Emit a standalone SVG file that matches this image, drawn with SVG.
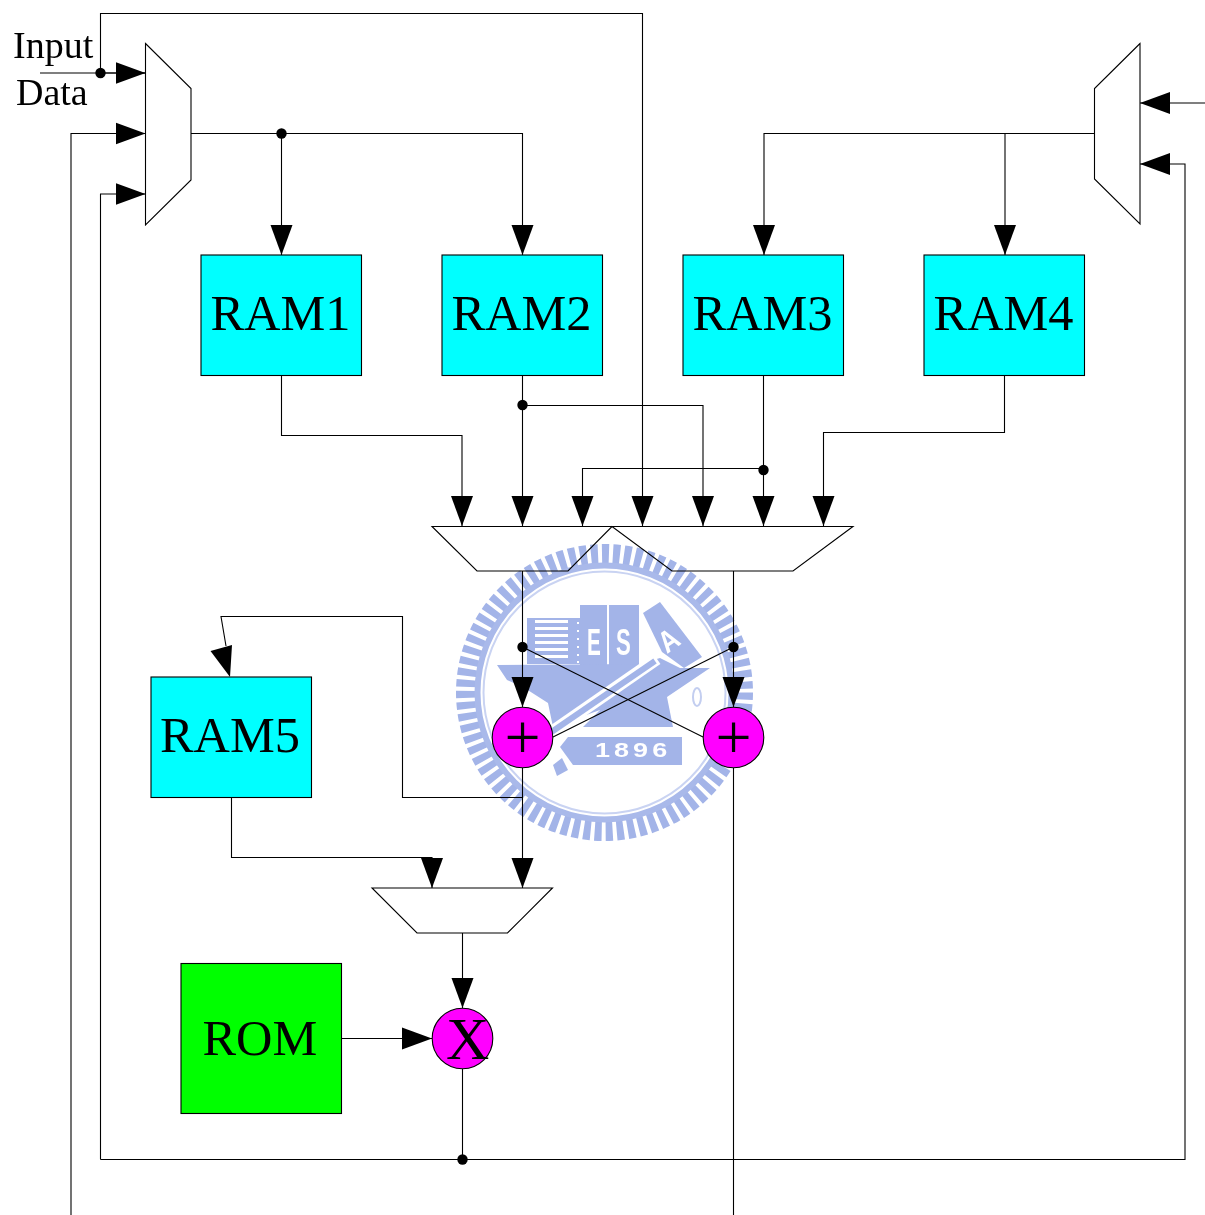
<svg xmlns="http://www.w3.org/2000/svg" width="1205" height="1215" viewBox="0 0 1205 1215">
<style>
.w{fill:none;stroke:#000;stroke-width:1.1}
.a{marker-end:url(#arrow)}
.dot{fill:#000;stroke:none}
.mux{fill:none;stroke:#000;stroke-width:1.1}
.ram{fill:#00ffff;stroke:#000;stroke-width:1.1}
.rom{fill:#00ff00;stroke:#000;stroke-width:1.1}
.op{fill:#ff00ff;stroke:#000;stroke-width:1.1}
text{font-family:"Liberation Serif","Times New Roman",serif;fill:#000}
.lbl{font-size:50.4px}
.io{font-size:38px}
.wt{font-family:"Liberation Sans",Arial,sans-serif;font-weight:bold;fill:#fff}
.wb{fill:#a3b4e8}
</style>
<defs>
<marker id="arrow" markerUnits="userSpaceOnUse" markerWidth="31" markerHeight="24" refX="30" refY="12" orient="auto">
<path d="M0,1 L30,12 L0,23 z" fill="#000"/>
</marker>
<filter id="soft" x="-5%" y="-5%" width="110%" height="110%"><feGaussianBlur stdDeviation="0.7"/></filter>
</defs>
<rect width="1205" height="1215" fill="#fff"/>
<g id="watermark" filter="url(#soft)">
<circle cx="604.500" cy="692.500" r="138" fill="none" stroke="#a3b4e8" stroke-width="21" stroke-dasharray="7 3.975"/>
<circle cx="604.500" cy="692.500" r="127" fill="none" stroke="#a9b9ea" stroke-width="6"/>
<circle cx="604.500" cy="692.500" r="121" fill="none" stroke="#c9d3f2" stroke-width="2"/>
<rect class="wb" x="527" y="618" width="53" height="46"/>
<g fill="#fff">
<rect x="535" y="620" width="33" height="3"/><rect x="535" y="627" width="33" height="3"/><rect x="535" y="634" width="33" height="3"/><rect x="535" y="641" width="33" height="3"/><rect x="535" y="648" width="33" height="3"/><rect x="535" y="655" width="33" height="3"/>
<rect x="577" y="622" width="2" height="2"/><rect x="577" y="630" width="2" height="2"/><rect x="577" y="638" width="2" height="2"/><rect x="577" y="646" width="2" height="2"/><rect x="577" y="654" width="2" height="2"/><rect x="577" y="661" width="2" height="2"/>
</g>
<rect class="wb" x="580" y="605" width="27" height="60"/>
<rect class="wb" x="609" y="605" width="30" height="60"/>
<polygon class="wb" points="643,613 660,602 702,657 684,668 662,652"/>
<polygon class="wb" points="497,665 640,664 660,658 680,668 710,668 667,697 673,727 583,727 600,710 553,727 548,703 523,687 507,680"/>
<path d="M657,659 L553,731" fill="none" stroke="#fff" stroke-width="12"/>
<path d="M655,661 L550,733" fill="none" stroke="#a3b4e8" stroke-width="6"/>
<rect x="530" y="703" width="18" height="24" fill="#fff"/>
<polygon class="wb" points="568,737 682,737 682,765 573,765 560,747"/>
<polygon class="wb" points="553,765 562,758 568,770 557,776"/>
<ellipse cx="697" cy="697" rx="4" ry="9" fill="none" stroke="#c3cef0" stroke-width="2"/>
<text class="wt" transform="translate(587,655) scale(.56,1)" font-size="37">E</text>
<text class="wt" transform="translate(616,655) scale(.6,1)" font-size="37">S</text>
<text class="wt" transform="translate(667,654) rotate(-35) scale(.85,1)" font-size="30">A</text>
<text class="wt" transform="translate(595,757) scale(1.35,1)" font-size="20" letter-spacing="3">1896</text>
</g>
<g id="connectors">
<path class="w" d="M40,73 H145"/>
<path class="w a" d="M100.500,73 V13.500 H642.500 V526"/>
<path class="w a" d="M100.500,73 H145.500"/>
<path class="w a" d="M71,1215 V133.500 H145.500"/>
<path class="w a" d="M100.500,1159.500 V194 H145.500"/>
<path class="w a" d="M100.500,1159.500 H1185 V164 H1140"/>
<path class="w a" d="M191,133.500 H522.500 V255"/>
<path class="w a" d="M281.500,133.500 V255"/>
<path class="w a" d="M1205,103 H1140"/>
<path class="w a" d="M1094.500,133.500 H764 V255"/>
<path class="w a" d="M1005,133.500 V255"/>
<path class="w a" d="M281.500,375.500 V435.500 H462 V526"/>
<path class="w a" d="M522.500,375.500 V526"/>
<path class="w a" d="M522.500,405.500 H703 V526"/>
<path class="w a" d="M763.500,375.500 V526"/>
<path class="w a" d="M763.500,468.500 H582.500 V526"/>
<path class="w a" d="M1004.500,375.500 V432.500 H823.500 V526"/>
<path class="w a" d="M522.500,571 V707"/>
<path class="w a" d="M733.500,571 V707"/>
<path class="w" d="M522.500,647 L703,737"/>
<path class="w" d="M733.500,647 L553,737"/>
<path class="w a" d="M522.500,768 V888"/>
<path class="w" d="M522.500,797.500 H402.500 V616.500 H221 L226,646"/>
<polygon points="210.500,651 232,645 230,677" fill="#000"/>
<path class="w" d="M733.500,768 V1215"/>
<path class="w a" d="M231.500,797.500 V857.500 H432 V888"/>
<path class="w a" d="M462.500,933 V1008"/>
<path class="w a" d="M341.500,1038.500 H432"/>
<path class="w" d="M462.500,1069 V1159.500"/>
<circle class="dot" cx="100.500" cy="73" r="5.200"/>
<circle class="dot" cx="281.500" cy="133.500" r="5.200"/>
<circle class="dot" cx="522.500" cy="405" r="5.200"/>
<circle class="dot" cx="763.500" cy="470" r="5.200"/>
<circle class="dot" cx="522.500" cy="647" r="5.200"/>
<circle class="dot" cx="733.500" cy="647" r="5.200"/>
<circle class="dot" cx="462.500" cy="1159.500" r="5.200"/>
</g>
<g id="input-label"><text class="io" x="13" y="58">Input</text><text class="io" x="16" y="105">Data</text></g>
<g id="mux-left"><polygon class="mux" points="145.500,43.500 191,88.500 191,180 145.500,225"/></g>
<g id="mux-right"><polygon class="mux" points="1140,43.500 1094.500,88.500 1094.500,179 1140,224"/></g>
<g id="ram1"><rect class="ram" x="201" y="255" width="160.500" height="120.500"/><text class="lbl" x="210.500" y="330">RAM1</text></g>
<g id="ram2"><rect class="ram" x="442" y="255" width="160.500" height="120.500"/><text class="lbl" x="451.500" y="330">RAM2</text></g>
<g id="ram3"><rect class="ram" x="683" y="255" width="160.500" height="120.500"/><text class="lbl" x="692.500" y="330">RAM3</text></g>
<g id="ram4"><rect class="ram" x="924" y="255" width="160.500" height="120.500"/><text class="lbl" x="933.500" y="330">RAM4</text></g>
<g id="mux-mid"><path class="mux" d="M432,526.500 H853 L793,571 H672 L612,526.500 L568,571 H477 Z"/></g>
<g id="adder-left"><circle class="op" cx="522.500" cy="737.500" r="30.300"/><text x="522.500" y="759" font-size="64" text-anchor="middle">+</text></g>
<g id="adder-right"><circle class="op" cx="733.500" cy="737.500" r="30.300"/><text x="733.500" y="759" font-size="64" text-anchor="middle">+</text></g>
<g id="ram5"><rect class="ram" x="151" y="677" width="160.500" height="120.500"/><text class="lbl" x="160" y="752">RAM5</text></g>
<g id="mux-low"><polygon class="mux" points="372,888 552.500,888 507.500,933 417,933"/></g>
<g id="rom"><rect class="rom" x="181" y="963.500" width="160.500" height="150"/><text class="lbl" x="202.500" y="1054.500">ROM</text></g>
<g id="multiplier"><circle class="op" cx="462.500" cy="1038.500" r="30.300"/><text x="446" y="1058.500" font-size="60">X</text></g>
</svg>
